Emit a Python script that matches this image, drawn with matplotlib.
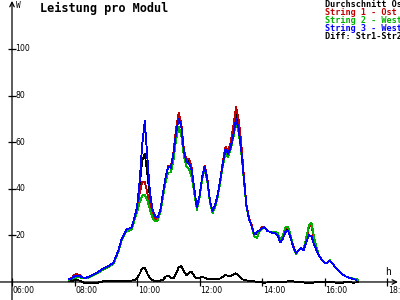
"""
Leistung pro Modul - Tagesverlauf der Strings (Nachbau als PNG 400x300)
"""
import numpy as np
import matplotlib
matplotlib.use('Agg')
import matplotlib.pyplot as plt

plt.rcParams['font.family'] = ['DejaVu Sans Mono']

# 5-Minuten-Raster ab 07:50
start_h = 7 + 50 / 60
n_pts = 112
zeit = start_h + np.arange(n_pts) * 5 / 60

# Werte in W
durchschnitt = [
    1.3, 1.7, 2.8, 3.1, 2.9, 2.0, 1.8, 2.0, 2.5, 3.0,
    3.6, 4.3, 5.0, 5.7, 6.3, 6.8, 7.5, 8.5, 11.0, 14.0,
    18.0, 20.5, 22.5, 23.0, 23.3, 27.3, 32.0, 41.0, 52.0, 55.0,
    46.0, 36.0, 30.0, 27.5, 27.5, 31.0, 38.0, 45.0, 49.5, 49.0,
    55.0, 65.0, 71.0, 67.5, 56.5, 51.5, 52.0, 48.5, 40.0, 32.0,
    37.0, 45.0, 49.5, 44.0, 35.0, 30.5, 33.0, 37.5, 44.0, 51.5,
    57.5, 55.5, 59.0, 65.0, 72.0, 68.0, 58.5, 45.5, 33.0, 27.5,
    24.0, 20.5, 20.5, 22.0, 23.0, 23.5, 22.0, 21.5, 21.5, 21.3,
    20.7, 17.7, 19.3, 22.7, 23.0, 19.7, 15.2, 12.3, 13.5, 14.5,
    14.0, 18.5, 23.5, 24.5, 17.5, 14.0, 11.0, 9.5, 8.3, 8.0,
    9.4, 8.0, 6.5, 5.5, 4.3, 3.2, 2.5, 2.0, 1.7, 1.3,
    1.1, np.nan,
]
string1 = [
    1.3, 1.7, 3.2, 3.3, 3.1, 2.0, 1.8, 2.0, 2.5, 3.0,
    3.6, 4.3, 5.0, 5.7, 6.3, 6.8, 7.5, 8.5, 11.0, 14.0,
    18.0, 20.5, 22.5, 23.0, 23.3, 27.3, 31.0, 38.0, 43.0, 43.0,
    38.0, 33.0, 29.0, 27.0, 27.5, 31.0, 38.0, 45.0, 50.0, 49.5,
    55.5, 66.0, 72.5, 68.0, 57.0, 52.0, 53.0, 49.0, 40.0, 32.0,
    37.0, 45.0, 50.0, 44.5, 35.0, 30.5, 33.0, 37.5, 44.0, 52.0,
    58.0, 56.0, 60.0, 67.0, 75.0, 70.0, 60.0, 46.0, 33.5, 27.5,
    24.5, 20.5, 21.0, 22.0, 23.5, 23.5, 22.0, 21.5, 21.5, 21.5,
    21.0, 18.0, 19.5, 23.0, 23.5, 20.0, 15.5, 12.5, 13.5, 14.5,
    14.0, 18.5, 23.5, 24.5, 17.5, 14.0, 11.0, 9.5, 8.3, 8.0,
    9.4, 8.0, 6.5, 5.5, 4.3, 3.2, 2.5, 2.0, 1.6, 1.2,
    1.0, np.nan,
]
string2 = [
    1.0, 1.2, 1.6, 2.0, 2.0, 1.6, 1.5, 1.8, 2.2, 2.8,
    3.4, 4.0, 4.6, 5.3, 5.9, 6.4, 7.1, 8.0, 10.5, 13.5,
    17.5, 20.0, 22.0, 22.0, 22.5, 26.5, 30.0, 34.0, 37.0, 37.5,
    35.0, 31.0, 27.5, 26.0, 26.5, 30.0, 36.5, 43.0, 47.0, 47.0,
    52.0, 61.0, 66.5, 63.0, 54.0, 49.5, 48.5, 45.0, 38.0, 31.0,
    36.0, 44.0, 48.5, 43.0, 34.0, 29.5, 32.0, 36.5, 43.0, 50.0,
    55.5, 53.5, 57.0, 62.0, 68.5, 64.5, 56.0, 44.0, 32.5, 27.0,
    24.0, 19.5, 19.0, 21.5, 23.0, 23.5, 22.0, 21.5, 21.5, 21.5,
    21.0, 18.0, 20.0, 23.5, 23.5, 20.0, 15.0, 12.0, 13.5, 14.5,
    14.0, 19.0, 24.5, 25.5, 19.0, 14.5, 11.0, 9.5, 8.3, 8.0,
    9.4, 8.0, 6.5, 5.5, 4.3, 3.2, 2.5, 2.0, 1.8, 1.5,
    1.2, 1.0,
]
string3 = [
    1.2, 1.6, 2.4, 2.8, 2.6, 2.0, 1.8, 2.0, 2.5, 3.0,
    3.6, 4.3, 5.0, 5.7, 6.3, 6.8, 7.5, 8.5, 11.0, 14.0,
    18.0, 20.5, 22.5, 23.0, 23.5, 27.5, 32.0, 43.0, 59.0, 69.0,
    53.0, 38.0, 31.0, 28.0, 28.0, 31.0, 38.5, 45.0, 49.5, 49.0,
    55.0, 64.0, 70.0, 67.0, 56.0, 51.5, 51.0, 48.0, 40.0, 32.0,
    37.0, 45.0, 49.5, 44.0, 35.0, 30.5, 33.0, 37.5, 44.0, 51.0,
    57.0, 55.0, 58.0, 63.0, 70.0, 66.0, 57.0, 45.0, 33.0, 27.0,
    24.0, 20.5, 21.5, 22.0, 23.0, 23.5, 22.0, 21.5, 21.0, 21.0,
    20.0, 17.0, 18.5, 21.5, 22.0, 19.0, 15.0, 12.5, 13.5, 14.5,
    13.7, 17.0, 20.0, 19.5, 16.0, 13.5, 11.0, 9.5, 8.2, 8.0,
    9.2, 8.0, 6.5, 5.5, 4.3, 3.2, 2.5, 2.0, 1.6, 1.2,
    1.0, np.nan,
]
diff_12 = [
    0.2, 0.3, 0.8, 1.0, 0.5, 0.0, -0.4, -0.5, -0.4, -0.5,
    -0.4, -0.3, 0.0, 0.3, 0.3, 0.3, 0.4, 0.4, 0.4, 0.4,
    0.4, 0.5, 0.5, 0.6, 0.6, 0.8, 1.5, 3.5, 5.8, 6.0,
    3.5, 1.5, 0.7, 0.5, 0.5, 0.6, 1.0, 2.3, 2.8, 1.8,
    1.5, 3.5, 6.3, 6.8, 4.5, 3.0, 4.0, 4.3, 2.5, 1.5,
    1.8, 2.3, 1.8, 1.4, 1.3, 1.2, 1.2, 1.3, 1.5, 2.2,
    3.0, 2.6, 2.5, 3.2, 3.7, 2.8, 1.5, 0.9, 0.7, 0.5,
    0.4, 0.3, 0.1, 0.0, -0.2, -0.3, -0.2, 0.0, 0.1, 0.0,
    0.0, 0.0, 0.1, 0.0, 0.3, 0.4, 0.3, 0.0, 0.0, -0.1,
    -0.2, -0.5, -0.6, -0.5, -0.2, -0.1, -0.1, 0.0, 0.0, 0.0,
    0.0, 0.0, -0.2, -0.5, -0.5, -0.3, 0.0, 0.0, -0.1, -0.3,
    -0.2, -0.1,
]

reihen = [
    ('Durchschnitt Ost', durchschnitt, '#000000'),
    ('String 1 - Ost', string1, '#c00000'),
    ('String 2 - West', string2, '#00b000'),
    ('String 3 - West', string3, '#0000ff'),
    ('Diff: Str1-Str2', diff_12, '#000000'),
]

x_ticks = [6, 8, 10, 12, 14, 16, 18]
x_labels = ['06:00', '08:00', '10:00', '12:00', '14:00', '16:00', '18:00']
y_ticks = [20, 40, 60, 80, 100]

fig = plt.figure(figsize=(4, 3), dpi=100)
ax = fig.add_axes([0, 0, 1, 1])
ax.set_xlim(5.616, 18.416)
ax.set_ylim(-7.73, 121.0)

for name, werte, farbe in reihen:
    ax.plot(zeit, werte, color=farbe, lw=0.6, antialiased=False)

# Achsen mit Pfeilen
for s in ax.spines.values():
    s.set_visible(False)
ax.spines['left'].set_position(('data', 6))
ax.spines['bottom'].set_position(('data', 0))
ax.annotate('', xy=(6, 120.6), xytext=(6, -7.73),
            arrowprops=dict(arrowstyle='->', lw=0.9, color='black',
                            shrinkA=0, shrinkB=0, mutation_scale=8))
ax.annotate('', xy=(18.35, 0), xytext=(5.616, 0),
            arrowprops=dict(arrowstyle='->', lw=0.9, color='black',
                            shrinkA=0, shrinkB=0, mutation_scale=8))

ax.set_xticks(x_ticks)
ax.set_yticks(y_ticks)
ax.set_xticklabels([])
ax.set_yticklabels([])
ax.tick_params(direction='inout', length=6, width=0.9, color='black')

for xt, lab in zip(x_ticks, x_labels):
    ax.text(xt + 0.02, -1.8, lab, fontsize=5.6, family='DejaVu Sans',
            ha='left', va='top')
for yt in y_ticks:
    ax.text(6.1, yt, str(yt), fontsize=5.6, family='DejaVu Sans',
            ha='left', va='center')

ax.text(6.14, 118.5, 'W', fontsize=5.6, ha='left', va='center')
ax.text(17.95, 4.2, 'h', fontsize=7, ha='left', va='center')

fig.text(0.1, 0.972, 'Leistung pro Modul', fontsize=8.6, fontweight='bold',
         ha='left', va='center')

# Legende als farbiger Text oben rechts
for i, (name, werte, farbe) in enumerate(reihen):
    fig.text(0.812, 0.985 - i * 0.0268, name, fontsize=6.1, fontweight='bold',
             color=farbe, ha='left', va='center')

fig.savefig('out.png', dpi=100, facecolor='white')
